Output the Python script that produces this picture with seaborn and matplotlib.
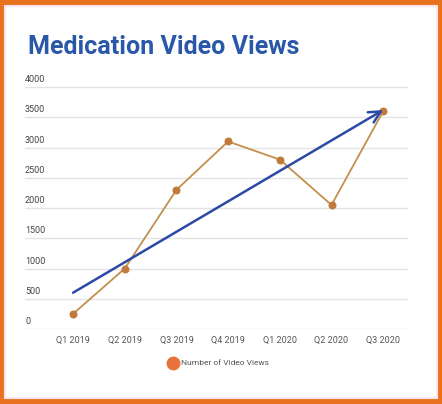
import matplotlib
matplotlib.use("Agg")
import matplotlib.pyplot as plt
from matplotlib.transforms import ScaledTranslation
from matplotlib.lines import Line2D
from matplotlib.patches import Rectangle
import seaborn as sns
import pandas as pd

quarters = ["Q1 2019", "Q2 2019", "Q3 2019", "Q4 2019", "Q1 2020", "Q2 2020", "Q3 2020"]
views = [250, 1000, 2300, 3100, 2800, 2050, 3600]
trend_start = 600
trend_end = 3620
y_ticks = [0, 500, 1000, 1500, 2000, 2500, 3000, 3500, 4000]
title = "Medication Video Views"
series_name = "Number of Video Views"

sns.set_theme(style="white")
plt.rcParams['font.family'] = ['Roboto', 'DejaVu Sans']

df = pd.DataFrame({"quarter": quarters, "views": views})

fig = plt.figure(figsize=(4.42, 4.04), dpi=100)
fig.patch.set_facecolor("#E8721E")
fig.add_artist(Rectangle((5/442, 6/404), 432/442, 392/404, transform=fig.transFigure,
                         facecolor="white", edgecolor="#FBE6F0", linewidth=1.5, zorder=0))

ymax = 4030
ax = fig.add_axes([25/442, 75/404, 383/442, 242 * ymax / 4000 / 404])
ax.set_facecolor("none")

sns.lineplot(data=df, x="quarter", y="views", sort=False, ax=ax, color="#C48F4C",
             linewidth=1.3, marker="o", markersize=5, markerfacecolor="#C27A3C",
             markeredgecolor="#C27A3C", zorder=3)

ax.annotate("", xy=(len(quarters) - 1, trend_end), xytext=(0, trend_start),
            arrowprops=dict(arrowstyle="->,head_length=0.7,head_width=0.35",
                            color="#2D49A6", lw=1.8, shrinkA=0, shrinkB=0), zorder=4)

ax.set_xlim(-0.93, 6.48)
ax.set_ylim(0, ymax)
ax.set_yticks(y_ticks)
ax.set_yticklabels([str(t) for t in y_ticks])
ax.yaxis.grid(True, color="#E3E3E3", linewidth=1)
ax.xaxis.grid(False)
for s in ax.spines.values():
    s.set_visible(False)
ax.set_xlabel("")
ax.set_ylabel("")
ax.tick_params(axis="y", length=0, pad=0, labelsize=6.5, labelcolor="#444444")
ax.tick_params(axis="x", length=0, pad=5, labelsize=6.5, labelcolor="#555555")
off = ScaledTranslation(0, 2/72, fig.dpi_scale_trans)
for lab in ax.get_yticklabels():
    lab.set_horizontalalignment("left")
    lab.set_verticalalignment("bottom")
    lab.set_transform(lab.get_transform() + off)

fig.text(28/442, 1 - 47/404, title, fontsize=18, fontweight="bold", color="#2A58A8",
         ha="left", va="center")

handle = Line2D([], [], linestyle="none", marker="o", markersize=9,
                markerfacecolor="#E8733A", markeredgecolor="#E8733A")
fig.legend([handle], [series_name], loc="center", bbox_to_anchor=(219/442, 1 - 363/404),
           frameon=False, fontsize=6, labelcolor="#555555", handletextpad=0.5,
           handlelength=1.0)

fig.savefig("out.png", dpi=100)
